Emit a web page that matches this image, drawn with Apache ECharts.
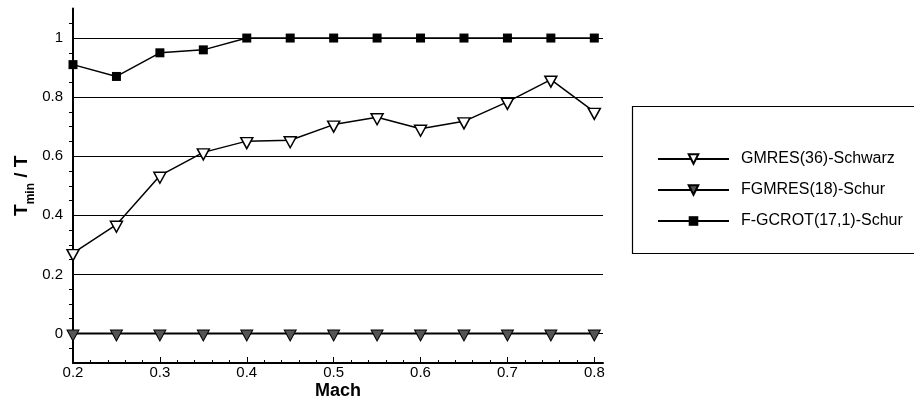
<!DOCTYPE html>
<html>
<head>
<meta charset="utf-8">
<script src="https://cdn.jsdelivr.net/npm/echarts@6/dist/echarts.min.js"></script>
<style>
  html, body { margin: 0; padding: 0; background: #fff; }
  #chart { width: 914px; height: 402px; }
</style>
</head>
<body>
<div id="chart"></div>
<script>
const mach = [0.2, 0.25, 0.3, 0.35, 0.4, 0.45, 0.5, 0.55, 0.6, 0.65, 0.7, 0.75, 0.8]
const gmresSchwarz = [0.272, 0.368, 0.534, 0.613, 0.651, 0.654, 0.707, 0.732, 0.693, 0.718, 0.784, 0.859, 0.75]
const fgmresSchur = [0, 0, 0, 0, 0, 0, 0, 0, 0, 0, 0, 0, 0]
const fgcrotSchur = [0.91, 0.87, 0.95, 0.96, 1, 1, 1, 1, 1, 1, 1, 1, 1]
const seriesNames = ['GMRES(36)-Schwarz', 'FGMRES(18)-Schur', 'F-GCROT(17,1)-Schur']
const xTicks = [0.2, 0.3, 0.4, 0.5, 0.6, 0.7, 0.8]
const yTicks = [0, 0.2, 0.4, 0.6, 0.8, 1]

const font = "'Liberation Sans', Arial, sans-serif"
const toPoints = vals => mach.map((m, i) => [m, vals[i]])

const chart = echarts.init(document.getElementById('chart'), null, { renderer: 'canvas' })

chart.setOption({
  animation: false,
  backgroundColor: '#fff',
  textStyle: { fontFamily: font, color: '#000' },
  grid: { left: 73, right: 311, top: 8.5, bottom: 39, outerBoundsMode: 'none' },
  // legend frame runs off the right edge, as in the original
  graphic: [{
    type: 'rect',
    shape: { x: 632.5, y: 106.5, width: 300, height: 147 },
    style: { fill: 'none', stroke: '#000', lineWidth: 1.2 },
    silent: true
  }],
  legend: {
    orient: 'vertical',
    left: 632,
    top: 106,
    data: seriesNames,
    itemWidth: 71,
    itemHeight: 12,
    itemGap: 15,
    padding: [45, 20, 27, 25],
    textStyle: { fontFamily: font, fontSize: 16, color: '#000', padding: [0, 0, 0, 7] }
  },
  xAxis: {
    type: 'value',
    min: 0.2,
    max: 0.81,
    interval: 0.1,
    name: 'Mach',
    nameLocation: 'middle',
    nameGap: 19,
    nameMoveOverlap: false,
    nameTextStyle: { fontFamily: font, fontSize: 18, fontWeight: 'bold', color: '#000' },
    axisLine: { onZero: false, lineStyle: { color: '#000', width: 2 } },
    axisTick: { inside: true, length: 6, customValues: xTicks, lineStyle: { color: '#000', width: 1 } },
    minorTick: { show: true, splitNumber: 5, length: 3, lineStyle: { color: '#000', width: 1 } },
    axisLabel: { customValues: xTicks, margin: 2, fontSize: 15, color: '#000', fontFamily: font },
    splitLine: { show: false }
  },
  yAxis: {
    type: 'value',
    min: -0.1,
    max: 1.1,
    splitNumber: 6,
    name: '{t|T}{s|min}{t| / T}',
    nameLocation: 'middle',
    nameRotate: 90,
    nameGap: 36,
    nameMoveOverlap: false,
    nameTextStyle: {
      fontFamily: font,
      fontWeight: 'bold',
      color: '#000',
      rich: {
        t: { fontSize: 19, fontWeight: 'bold', lineHeight: 30, verticalAlign: 'middle', fontFamily: font },
        s: { fontSize: 12, fontWeight: 'bold', lineHeight: 12, verticalAlign: 'bottom', fontFamily: font }
      }
    },
    axisLine: { onZero: false, lineStyle: { color: '#000', width: 2 } },
    axisTick: { show: false },
    minorTick: { show: true, splitNumber: 4, length: 4, lineStyle: { color: '#000', width: 1 } },
    axisLabel: { customValues: yTicks, margin: 10, fontSize: 15, color: '#000', fontFamily: font },
    splitLine: { show: true, showMinLine: false, showMaxLine: false, lineStyle: { color: '#000', width: 1 } }
  },
  series: [
    {
      name: seriesNames[0],
      type: 'line',
      data: toPoints(gmresSchwarz),
      symbol: 'triangle',
      symbolRotate: 180,
      symbolSize: [12, 11],
      symbolOffset: [0, 2],
      lineStyle: { color: '#000', width: 1.5 },
      itemStyle: { color: '#fff', borderColor: '#000', borderWidth: 1.5 },
      z: 3
    },
    {
      name: seriesNames[1],
      type: 'line',
      data: toPoints(fgmresSchur),
      symbol: 'triangle',
      symbolRotate: 180,
      symbolSize: [12, 11],
      symbolOffset: [0, 2],
      lineStyle: { color: '#000', width: 2 },
      itemStyle: { color: '#555', borderColor: '#000', borderWidth: 1 },
      z: 3
    },
    {
      name: seriesNames[2],
      type: 'line',
      data: toPoints(fgcrotSchur),
      symbol: 'rect',
      symbolSize: 9,
      lineStyle: { color: '#000', width: 1.5 },
      itemStyle: { color: '#000', borderColor: '#000', borderWidth: 0 },
      z: 3
    }
  ]
})
</script>
</body>
</html>
